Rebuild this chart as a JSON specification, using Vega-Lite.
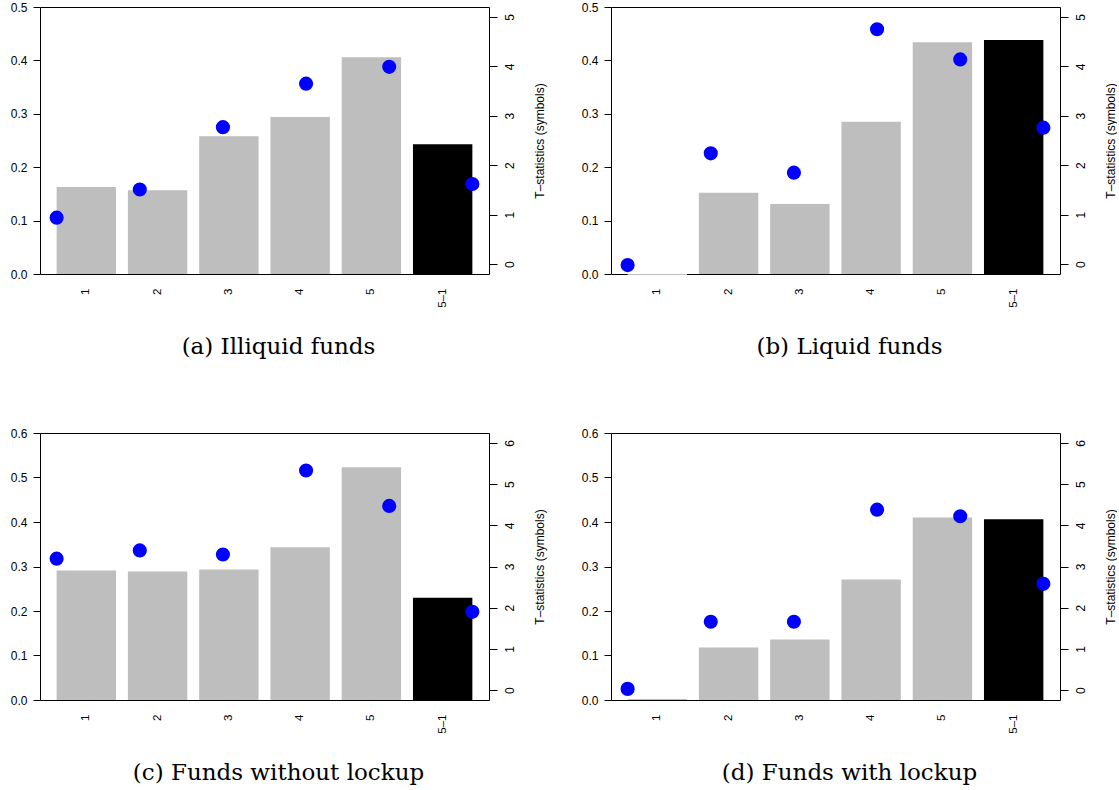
{
  "$schema": "https://vega.github.io/schema/vega-lite/v6.json",
  "padding": {"left": 9, "top": 0, "right": 0, "bottom": 0},
  "background": "white",
  "config": {
    "view": {"stroke": "black", "strokeWidth": 1},
    "axis": {"grid": false, "domain": false, "labelColor": "black", "tickColor": "black", "labelFont": "Liberation Sans", "titleFont": "Liberation Sans", "titleFontWeight": "normal", "titleColor": "black"},
    "title": {"font": "DejaVu Serif", "fontSize": 23, "fontWeight": "normal", "color": "black", "orient": "bottom", "anchor": "middle", "baseline": "top", "offset": 29, "dx": 14}
  },
  "datasets": {
    "a": [
      {"group": "1", "ret": 0.163, "tstat": 0.94, "kind": "quintile"},
      {"group": "2", "ret": 0.157, "tstat": 1.51, "kind": "quintile"},
      {"group": "3", "ret": 0.258, "tstat": 2.77, "kind": "quintile"},
      {"group": "4", "ret": 0.294, "tstat": 3.65, "kind": "quintile"},
      {"group": "5", "ret": 0.406, "tstat": 3.99, "kind": "quintile"},
      {"group": "5–1", "ret": 0.243, "tstat": 1.62, "kind": "spread"}
    ],
    "b": [
      {"group": "1", "ret": -0.002, "tstat": -0.02, "kind": "quintile"},
      {"group": "2", "ret": 0.152, "tstat": 2.24, "kind": "quintile"},
      {"group": "3", "ret": 0.131, "tstat": 1.85, "kind": "quintile"},
      {"group": "4", "ret": 0.285, "tstat": 4.75, "kind": "quintile"},
      {"group": "5", "ret": 0.434, "tstat": 4.14, "kind": "quintile"},
      {"group": "5–1", "ret": 0.438, "tstat": 2.76, "kind": "spread"}
    ],
    "c": [
      {"group": "1", "ret": 0.291, "tstat": 3.19, "kind": "quintile"},
      {"group": "2", "ret": 0.289, "tstat": 3.39, "kind": "quintile"},
      {"group": "3", "ret": 0.293, "tstat": 3.29, "kind": "quintile"},
      {"group": "4", "ret": 0.343, "tstat": 5.33, "kind": "quintile"},
      {"group": "5", "ret": 0.523, "tstat": 4.47, "kind": "quintile"},
      {"group": "5–1", "ret": 0.230, "tstat": 1.90, "kind": "spread"}
    ],
    "d": [
      {"group": "1", "ret": 0.002, "tstat": 0.03, "kind": "quintile"},
      {"group": "2", "ret": 0.118, "tstat": 1.66, "kind": "quintile"},
      {"group": "3", "ret": 0.136, "tstat": 1.66, "kind": "quintile"},
      {"group": "4", "ret": 0.271, "tstat": 4.38, "kind": "quintile"},
      {"group": "5", "ret": 0.410, "tstat": 4.22, "kind": "quintile"},
      {"group": "5–1", "ret": 0.406, "tstat": 2.58, "kind": "spread"}
    ]
  },
  "columns": 2,
  "spacing": {"column": 122, "row": 159},
  "bounds": "flush",
  "concat": [
    {
      "title": {"text": "(a) Illiquid funds"},
      "width": 449, "height": 267,
      "data": {"name": "a"},
      "layer": [
        {"mark": {"type": "bar"}, "encoding": {
          "x": {"field": "group", "type": "nominal", "sort": null, "scale": {"type": "band", "paddingInner": 0.16667, "paddingOuter": 0.23333}, "axis": {"title": null, "ticks": false, "labelAngle": -90, "labelAlign": "right", "labelBaseline": "middle", "labelPadding": 14, "labelFontSize": 11.5}},
          "y": {"field": "ret", "type": "quantitative", "scale": {"domain": [0, 0.5], "nice": false}, "axis": {"title": null, "values": [0, 0.1, 0.2, 0.3, 0.4, 0.5], "format": ".1f", "tickSize": 7, "labelPadding": 6, "labelFontSize": 12}},
          "color": {"field": "kind", "type": "nominal", "scale": {"domain": ["quintile", "spread"], "range": ["#bebebe", "#000000"]}, "legend": null}
        }},
        {"mark": {"type": "circle", "size": 200, "opacity": 1, "color": "#0000ff"}, "encoding": {
          "x": {"field": "group", "type": "nominal", "sort": null, "scale": {"type": "point", "padding": 0.2}, "axis": null},
          "y": {"field": "tstat", "type": "quantitative", "scale": {"domain": [-0.2, 5.2], "nice": false, "zero": false}, "axis": {"orient": "right", "title": "T–statistics (symbols)", "values": [0, 1, 2, 3, 4, 5], "tickSize": 8, "labelAngle": -90, "labelAlign": "center", "labelBaseline": "top", "labelPadding": 7, "labelFontSize": 12, "titleFontSize": 12, "titleAngle": -90, "titleX": 50, "titleY": 133.5, "titleAlign": "center", "titleBaseline": "middle"}}
        }}
      ],
      "resolve": {"scale": {"x": "independent", "y": "independent"}}
    },
    {
      "title": {"text": "(b) Liquid funds"},
      "width": 449, "height": 267,
      "data": {"name": "b"},
      "layer": [
        {"mark": {"type": "bar"}, "encoding": {
          "x": {"field": "group", "type": "nominal", "sort": null, "scale": {"type": "band", "paddingInner": 0.16667, "paddingOuter": 0.23333}, "axis": {"title": null, "ticks": false, "labelAngle": -90, "labelAlign": "right", "labelBaseline": "middle", "labelPadding": 14, "labelFontSize": 11.5}},
          "y": {"field": "ret", "type": "quantitative", "scale": {"domain": [0, 0.5], "nice": false}, "axis": {"title": null, "values": [0, 0.1, 0.2, 0.3, 0.4, 0.5], "format": ".1f", "tickSize": 7, "labelPadding": 6, "labelFontSize": 12}},
          "color": {"field": "kind", "type": "nominal", "scale": {"domain": ["quintile", "spread"], "range": ["#bebebe", "#000000"]}, "legend": null}
        }},
        {"mark": {"type": "circle", "size": 200, "opacity": 1, "color": "#0000ff"}, "encoding": {
          "x": {"field": "group", "type": "nominal", "sort": null, "scale": {"type": "point", "padding": 0.2}, "axis": null},
          "y": {"field": "tstat", "type": "quantitative", "scale": {"domain": [-0.2, 5.2], "nice": false, "zero": false}, "axis": {"orient": "right", "title": "T–statistics (symbols)", "values": [0, 1, 2, 3, 4, 5], "tickSize": 8, "labelAngle": -90, "labelAlign": "center", "labelBaseline": "top", "labelPadding": 7, "labelFontSize": 12, "titleFontSize": 12, "titleAngle": -90, "titleX": 50, "titleY": 133.5, "titleAlign": "center", "titleBaseline": "middle"}}
        }}
      ],
      "resolve": {"scale": {"x": "independent", "y": "independent"}}
    },
    {
      "title": {"text": "(c) Funds without lockup"},
      "width": 449, "height": 267,
      "data": {"name": "c"},
      "layer": [
        {"mark": {"type": "bar"}, "encoding": {
          "x": {"field": "group", "type": "nominal", "sort": null, "scale": {"type": "band", "paddingInner": 0.16667, "paddingOuter": 0.23333}, "axis": {"title": null, "ticks": false, "labelAngle": -90, "labelAlign": "right", "labelBaseline": "middle", "labelPadding": 14, "labelFontSize": 11.5}},
          "y": {"field": "ret", "type": "quantitative", "scale": {"domain": [0, 0.6], "nice": false}, "axis": {"title": null, "values": [0, 0.1, 0.2, 0.3, 0.4, 0.5, 0.6], "format": ".1f", "tickSize": 7, "labelPadding": 6, "labelFontSize": 12}},
          "color": {"field": "kind", "type": "nominal", "scale": {"domain": ["quintile", "spread"], "range": ["#bebebe", "#000000"]}, "legend": null}
        }},
        {"mark": {"type": "circle", "size": 200, "opacity": 1, "color": "#0000ff"}, "encoding": {
          "x": {"field": "group", "type": "nominal", "sort": null, "scale": {"type": "point", "padding": 0.2}, "axis": null},
          "y": {"field": "tstat", "type": "quantitative", "scale": {"domain": [-0.24, 6.24], "nice": false, "zero": false}, "axis": {"orient": "right", "title": "T–statistics (symbols)", "values": [0, 1, 2, 3, 4, 5, 6], "tickSize": 8, "labelAngle": -90, "labelAlign": "center", "labelBaseline": "top", "labelPadding": 7, "labelFontSize": 12, "titleFontSize": 12, "titleAngle": -90, "titleX": 50, "titleY": 133.5, "titleAlign": "center", "titleBaseline": "middle"}}
        }}
      ],
      "resolve": {"scale": {"x": "independent", "y": "independent"}}
    },
    {
      "title": {"text": "(d) Funds with lockup"},
      "width": 449, "height": 267,
      "data": {"name": "d"},
      "layer": [
        {"mark": {"type": "bar"}, "encoding": {
          "x": {"field": "group", "type": "nominal", "sort": null, "scale": {"type": "band", "paddingInner": 0.16667, "paddingOuter": 0.23333}, "axis": {"title": null, "ticks": false, "labelAngle": -90, "labelAlign": "right", "labelBaseline": "middle", "labelPadding": 14, "labelFontSize": 11.5}},
          "y": {"field": "ret", "type": "quantitative", "scale": {"domain": [0, 0.6], "nice": false}, "axis": {"title": null, "values": [0, 0.1, 0.2, 0.3, 0.4, 0.5, 0.6], "format": ".1f", "tickSize": 7, "labelPadding": 6, "labelFontSize": 12}},
          "color": {"field": "kind", "type": "nominal", "scale": {"domain": ["quintile", "spread"], "range": ["#bebebe", "#000000"]}, "legend": null}
        }},
        {"mark": {"type": "circle", "size": 200, "opacity": 1, "color": "#0000ff"}, "encoding": {
          "x": {"field": "group", "type": "nominal", "sort": null, "scale": {"type": "point", "padding": 0.2}, "axis": null},
          "y": {"field": "tstat", "type": "quantitative", "scale": {"domain": [-0.24, 6.24], "nice": false, "zero": false}, "axis": {"orient": "right", "title": "T–statistics (symbols)", "values": [0, 1, 2, 3, 4, 5, 6], "tickSize": 8, "labelAngle": -90, "labelAlign": "center", "labelBaseline": "top", "labelPadding": 7, "labelFontSize": 12, "titleFontSize": 12, "titleAngle": -90, "titleX": 50, "titleY": 133.5, "titleAlign": "center", "titleBaseline": "middle"}}
        }}
      ],
      "resolve": {"scale": {"x": "independent", "y": "independent"}}
    }
  ]
}
